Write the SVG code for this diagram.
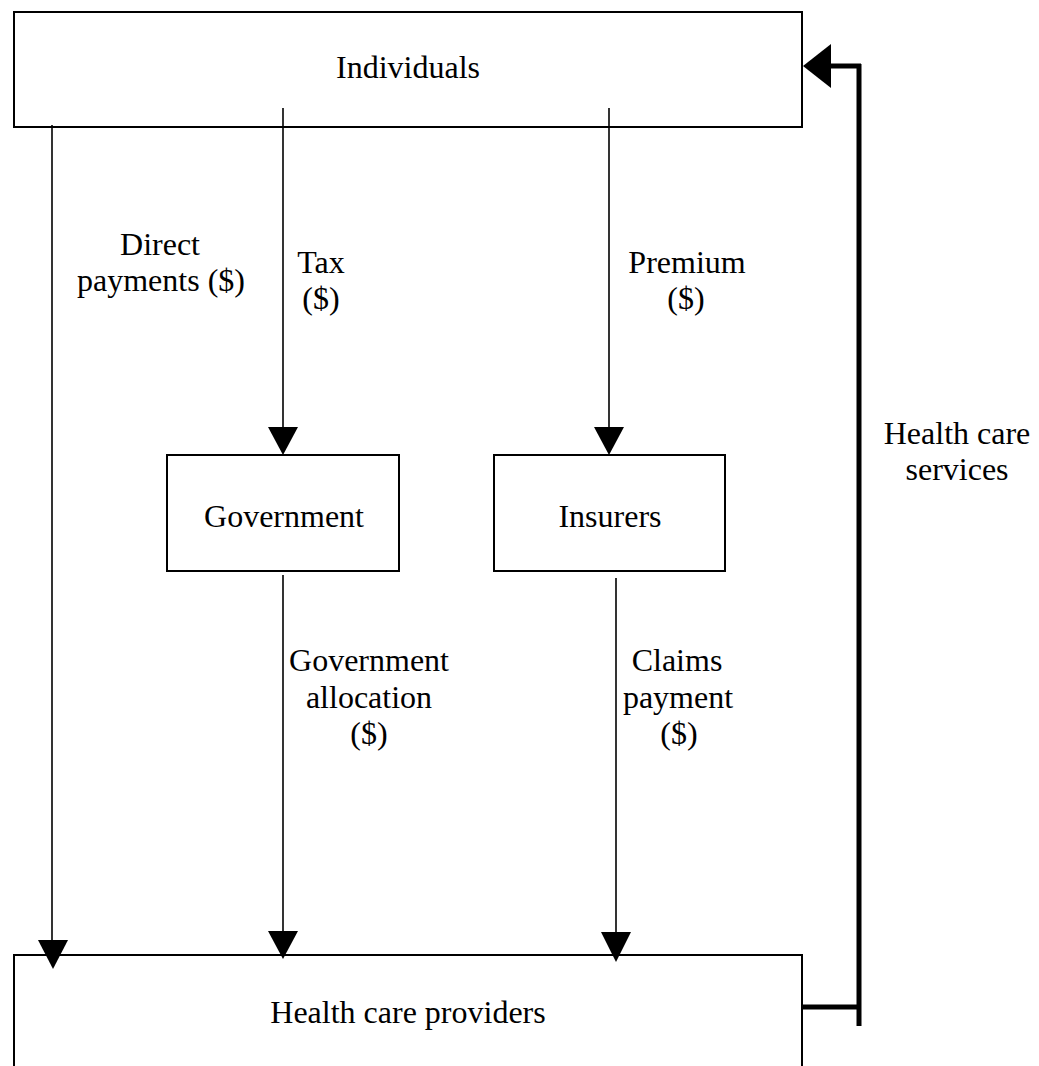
<svg xmlns="http://www.w3.org/2000/svg" width="1039" height="1066" viewBox="0 0 1039 1066">
  <style>
    .box { fill: #ffffff; stroke: #000000; stroke-width: 2; }
    .flow { stroke: #000000; stroke-width: 1.6; fill: none; }
    .thick { stroke: #000000; stroke-width: 5; fill: none; }
    .head { fill: #000000; }
    text { font-family: "Liberation Serif", "Times New Roman", serif; font-size: 32px; fill: #000000; text-anchor: middle; }
  </style>
  <rect width="1039" height="1066" fill="#ffffff"/>

  <!-- nodes -->
  <g id="individuals">
    <rect class="box" x="14" y="12" width="788" height="115"/>
    <text x="408" y="78">Individuals</text>
  </g>
  <g id="government">
    <rect class="box" x="167" y="455" width="232" height="116"/>
    <text x="284" y="527">Government</text>
  </g>
  <g id="insurers">
    <rect class="box" x="494" y="455" width="231" height="116"/>
    <text x="610" y="527">Insurers</text>
  </g>
  <g id="providers">
    <rect class="box" x="14" y="955" width="788" height="120"/>
    <text x="408" y="1023">Health care providers</text>
  </g>

  <!-- connectors -->
  <g id="connectors">
    <!-- direct payments -->
    <line class="flow" x1="52" y1="125" x2="52" y2="941"/>
    <polygon class="head" points="38,940 68,940 53,969"/>
    <text x="160" y="255">Direct</text>
    <text x="161" y="291">payments ($)</text>

    <!-- tax -->
    <line class="flow" x1="283" y1="108" x2="283" y2="428"/>
    <polygon class="head" points="268,427 298,427 283,455"/>
    <text x="321" y="273">Tax</text>
    <text x="321" y="309">($)</text>

    <!-- premium -->
    <line class="flow" x1="609" y1="108" x2="609" y2="428"/>
    <polygon class="head" points="594,427 624,427 609,455"/>
    <text x="687" y="273">Premium</text>
    <text x="686" y="309">($)</text>

    <!-- government allocation -->
    <line class="flow" x1="283" y1="575" x2="283" y2="932"/>
    <polygon class="head" points="268,931 298,931 283,959"/>
    <text x="369" y="671">Government</text>
    <text x="369" y="708">allocation</text>
    <text x="369" y="744">($)</text>

    <!-- claims payment -->
    <line class="flow" x1="616" y1="578" x2="616" y2="933"/>
    <polygon class="head" points="601,932 631,932 616,962"/>
    <text x="677" y="671">Claims</text>
    <text x="678" y="708">payment</text>
    <text x="679" y="744">($)</text>

    <!-- health care services -->
    <line class="thick" x1="802" y1="1007" x2="859" y2="1007"/>
    <line class="thick" x1="859" y1="1026" x2="859" y2="64"/>
    <line class="thick" x1="861" y1="66" x2="830" y2="66"/>
    <polygon class="head" points="803,66 831,44 831,88"/>
    <text x="957" y="444">Health care</text>
    <text x="957" y="480">services</text>
  </g>
</svg>
